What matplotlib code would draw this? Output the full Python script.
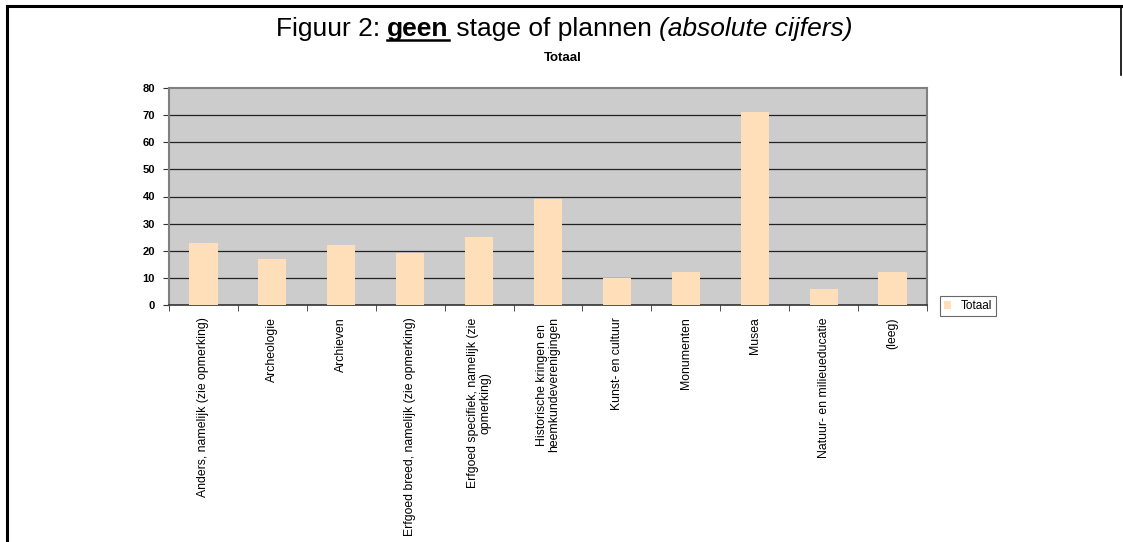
import matplotlib
matplotlib.use("Agg")
import matplotlib.pyplot as plt
from matplotlib.lines import Line2D

plt.rcParams['font.family'] = ['Liberation Sans', 'DejaVu Sans']

categories = [
    "Anders, namelijk (zie opmerking)",
    "Archeologie",
    "Archieven",
    "Erfgoed breed, namelijk (zie opmerking)",
    "Erfgoed specifiek, namelijk (zie\nopmerking)",
    "Historische kringen en\nheemkundeverenigingen",
    "Kunst- en cultuur",
    "Monumenten",
    "Musea",
    "Natuur- en milieueducatie",
    "(leeg)",
]
totaal = [23, 17, 22, 19, 25, 39, 10, 12, 71, 6, 12]
yticks = [0, 10, 20, 30, 40, 50, 60, 70, 80]

bar_color = '#FFDEBA'
bg_color = '#CCCCCC'

fig = plt.figure(figsize=(11.23, 5.42), dpi=100)
ax = fig.add_axes([169 / 1123, 1 - 305 / 542, 758 / 1123, 217 / 542])
ax.set_facecolor(bg_color)

xs = list(range(len(categories)))
bars = ax.bar(xs, totaal, width=0.41, color=bar_color, zorder=3, label='Totaal')

ax.set_xlim(-0.5, len(categories) - 0.5)
ax.set_ylim(0, 80)
ax.set_yticks(yticks)
ax.set_yticklabels([str(v) for v in yticks], fontsize=8, fontweight='bold')
for y in yticks[1:-1]:
    ax.axhline(y, color='#222222', lw=0.9, zorder=1)

ax.set_xticks(xs)
ax.set_xticklabels(categories, rotation=90, fontsize=8.8, va='top', ha='center',
                   multialignment='center', linespacing=1.0)
ax.tick_params(axis='x', which='major', length=0, pad=9)
ax.set_xticks([i - 0.5 for i in range(len(categories) + 1)], minor=True)
ax.tick_params(axis='x', which='minor', length=4, direction='out', color='#333333')
ax.tick_params(axis='y', length=4, direction='out', color='#333333', pad=6)

for side in ['top', 'right', 'left']:
    ax.spines[side].set_color('#808080')
    ax.spines[side].set_linewidth(1.5)
ax.spines['bottom'].set_color('#333333')
ax.spines['bottom'].set_linewidth(1.2)

leg = fig.legend(handles=[bars], labels=['Totaal'], loc='center left',
                 bbox_to_anchor=(940 / 1123, 1 - 306 / 542), fontsize=8.5,
                 frameon=True, fancybox=False, edgecolor='#444444',
                 handlelength=0.6, handleheight=0.6, handletextpad=0.8,
                 borderpad=0.35, borderaxespad=0)
leg.get_frame().set_linewidth(0.8)

# frame lines of the page
fig.add_artist(Line2D([7 / 1123, 7 / 1123], [0, 1 - 6 / 542], color='black', lw=2.2,
                      transform=fig.transFigure))
fig.add_artist(Line2D([7 / 1123, 1], [1 - 6 / 542, 1 - 6 / 542], color='black', lw=2.2,
                      transform=fig.transFigure))
fig.add_artist(Line2D([1121 / 1123, 1121 / 1123], [1 - 6 / 542, 1 - 75 / 542],
                      color='black', lw=1.2, transform=fig.transFigure))

# title in pieces: normal, bold underlined, normal, italic
pieces = [("Figuur 2: ", 'normal', 'normal'),
          ("geen", 'bold', 'normal'),
          (" stage of plannen ", 'normal', 'normal'),
          ("(absolute cijfers)", 'normal', 'italic')]
fig.canvas.draw()
renderer = fig.canvas.get_renderer()
ty = 1 - 36 / 542
texts = []
widths = []
for s, w, st in pieces:
    t = fig.text(0, ty, s, fontsize=19, fontweight=w, fontstyle=st, va='baseline', ha='left')
    bb = t.get_window_extent(renderer)
    texts.append(t)
    widths.append(bb.width)
total = sum(widths)
x0 = 564 - total / 2
for t, wd in zip(texts, widths):
    t.set_x(x0 / 1123)
    if t.get_text() == "geen":
        fig.add_artist(Line2D([x0 / 1123, (x0 + wd) / 1123], [ty - 4 / 542, ty - 4 / 542],
                              color='black', lw=1.8, transform=fig.transFigure))
    x0 += wd

fig.text(563 / 1123, 1 - 58 / 542, "Totaal", fontsize=9.5, fontweight='bold',
         ha='center', va='center')

fig.savefig("out.png", dpi=100)
